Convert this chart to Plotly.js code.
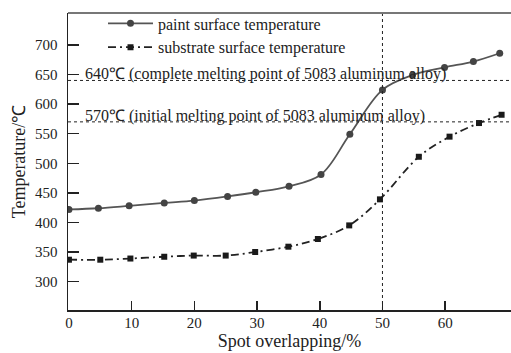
<!DOCTYPE html>
<html>
<head>
<meta charset="utf-8">
<script src="https://cdn.plot.ly/plotly-3.0.1.min.js"></script>
<style>html,body{margin:0;padding:0;background:#fff;}#chart{width:511px;height:353px;}</style>
</head>
<body>
<div id="chart"></div>
<script>
const paintX = [0, 4.7, 9.6, 15.2, 20, 25.3, 29.8, 35.1, 40.2, 44.8, 50, 54.8, 59.9, 64.5, 68.7];
const paintY = [422, 424, 428, 433, 437, 444, 451, 461, 481, 549, 624, 649, 662, 672, 686];
const substrateX = [0, 5, 9.8, 15.2, 19.9, 25, 29.7, 35, 39.7, 44.7, 49.6, 55.8, 60.7, 65.4, 69.0];
const substrateY = [337, 337, 339, 342, 344, 344, 350, 359, 372, 395, 439, 511, 545, 568, 582];
const seriesNames = ["paint surface temperature", "substrate surface temperature"];
const xTicks = [0, 10, 20, 30, 40, 50, 60];
const yTicks = [300, 350, 400, 450, 500, 550, 600, 650, 700];
const refLevels = [640, 570];
const refLabels = ["640\u2103 (complete melting point of 5083 aluminum alloy)",
                   "570\u2103 (initial melting point of 5083 aluminum alloy)"];
const refX = 50;

const FONT = "Liberation Serif, Times New Roman, serif";
const traces = [
  {x: paintX, y: paintY, name: seriesNames[0], type: "scatter", mode: "lines+markers",
   line: {shape: "spline", color: "#555", width: 1.8},
   marker: {symbol: "circle", size: 7, color: "#444"}},
  {x: substrateX, y: substrateY, name: seriesNames[1], type: "scatter", mode: "lines+markers",
   line: {shape: "spline", color: "#222", width: 1.8, dash: "8px,4px,2px,4px"},
   marker: {symbol: "square", size: 6, color: "#1a1a1a"}}
];

const shapes = [
  {type: "line", xref: "paper", x0: 0, x1: 1, yref: "y", y0: refLevels[0], y1: refLevels[0],
   line: {color: "#222", width: 1, dash: "dot"}},
  {type: "line", xref: "paper", x0: 0, x1: 1, yref: "y", y0: refLevels[1], y1: refLevels[1],
   line: {color: "#222", width: 1, dash: "dot"}},
  {type: "line", xref: "x", x0: refX, x1: refX, yref: "paper", y0: 0, y1: 1,
   line: {color: "#222", width: 1, dash: "dot"}},
  {type: "line", xref: "paper", x0: 0, x1: 1, yref: "paper", y0: 1, y1: 1,
   line: {color: "#777", width: 2}}
];

const annotations = refLevels.map((v, i) => ({
  x: 2.3, y: v, xref: "x", yref: "y", text: refLabels[i], showarrow: false,
  xanchor: "left", yanchor: "bottom", yshift: -5,
  font: {family: FONT, size: 16, color: "#222"}
}));

const layout = {
  width: 511, height: 353,
  margin: {l: 68, r: 0, t: 13, b: 43},
  paper_bgcolor: "#fff", plot_bgcolor: "#fff",
  font: {family: FONT, size: 15, color: "#222"},
  showlegend: true,
  legend: {x: 0.079, y: 1.022, xanchor: "left", yanchor: "top", bgcolor: "rgba(0,0,0,0)",
           itemwidth: 45, font: {family: FONT, size: 16, color: "#222"}},
  xaxis: {range: [-0.15, 70.5], tickvals: xTicks, ticks: "inside", ticklen: 9, tickwidth: 1.5,
          tickcolor: "#222", showline: true, linecolor: "#222", linewidth: 1.5,
          showgrid: false, zeroline: false, ticklabelstandoff: -2,
          tickfont: {family: FONT, size: 15, color: "#222"},
          title: {text: "Spot overlapping/%", font: {family: FONT, size: 18, color: "#222"}, standoff: 5}},
  yaxis: {range: [252, 754], tickvals: yTicks, ticks: "inside", ticklen: 11, tickwidth: 1.5,
          tickcolor: "#222", showline: true, linecolor: "#222", linewidth: 1.5,
          showgrid: false, zeroline: false, ticklabelstandoff: 6,
          tickfont: {family: FONT, size: 15, color: "#222"},
          title: {text: "Temperature/\u2103", font: {family: FONT, size: 18, color: "#222"}, standoff: 4}},
  shapes: shapes,
  annotations: annotations
};

Plotly.newPlot("chart", traces, layout, {displayModeBar: false, staticPlot: true});
</script>
</body>
</html>
